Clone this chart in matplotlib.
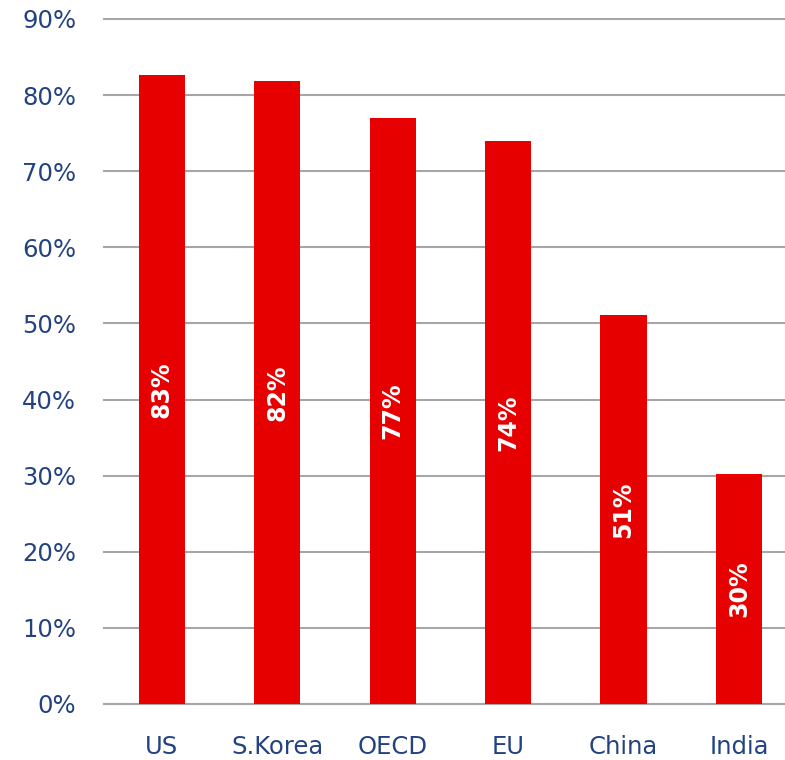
import matplotlib
matplotlib.use("Agg")
import matplotlib.pyplot as plt
from matplotlib.ticker import MultipleLocator, FuncFormatter

categories = ["US", "S.Korea", "OECD", "EU", "China", "India"]
values = [82.7, 81.9, 77.0, 74.0, 51.1, 30.2]

text_color = "#234282"
bar_color = "#e60000"
grid_color = "#a6a6a6"

fig = plt.figure(figsize=(7.85, 7.6), dpi=100)
ax = fig.add_axes([0.1325, 0.0737, 0.8825, 0.9013])

x = range(len(categories))
bars = ax.bar(x, values, width=0.4, color=bar_color, zorder=3)

for xi, v in zip(x, values):
    ax.text(xi, v / 2, f"{v:.0f}%", rotation=90, ha="center", va="center",
            color="white", fontsize=17, fontweight="bold", zorder=4)

ax.set_xlim(-0.5, len(categories) - 0.5)
ax.set_ylim(0, 90)
ax.yaxis.set_major_locator(MultipleLocator(10))
ax.yaxis.set_major_formatter(FuncFormatter(lambda v, _: f"{v:.0f}%"))
ax.set_xticks(list(x))
ax.set_xticklabels(categories)

ax.grid(axis="y", color=grid_color, linewidth=1.5, zorder=0)
for gl in ax.get_ygridlines():
    gl.set_clip_on(False)
for side in ["top", "right", "left"]:
    ax.spines[side].set_visible(False)
ax.spines["bottom"].set_color(grid_color)
ax.spines["bottom"].set_linewidth(1.5)
ax.spines["bottom"].set_zorder(1)

ax.tick_params(axis="both", length=0, labelcolor=text_color, labelsize=17.5)
ax.tick_params(axis="y", pad=20)
ax.tick_params(axis="x", pad=22)

fig.savefig("out.png", dpi=100)
